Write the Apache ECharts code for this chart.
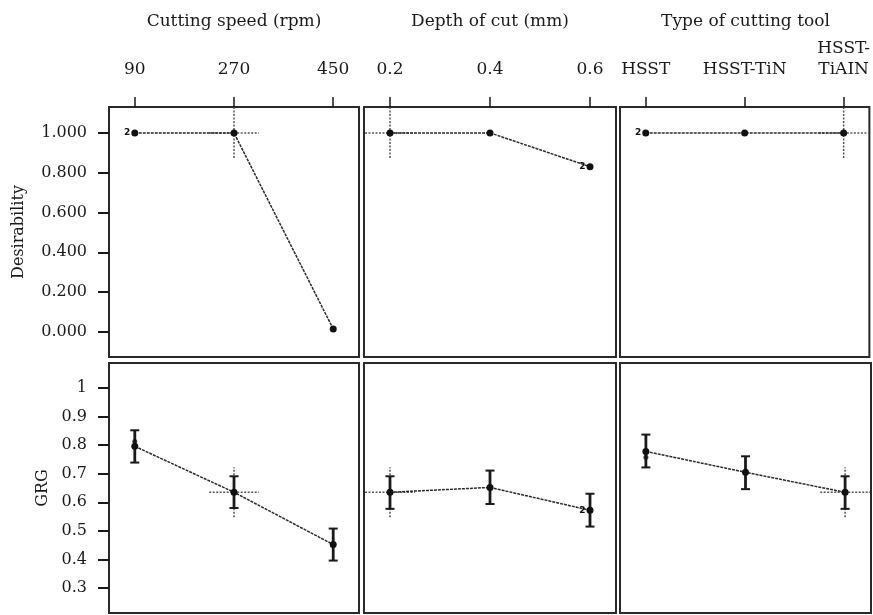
<!DOCTYPE html>
<html>
<head>
<meta charset="utf-8">
<script src="https://cdn.jsdelivr.net/npm/echarts@6/dist/echarts.min.js"></script>
<style>html,body{margin:0;padding:0;background:#fff}#c{width:873px;height:615px}</style>
</head>
<body>
<div id="c"></div>
<script>
// ---- factor titles and levels ----
const factorTitles = ['Cutting speed (rpm)', 'Depth of cut (mm)', 'Type of cutting tool'];
const speedLevels = ['90', '270', '450'];
const depthLevels = ['0.2', '0.4', '0.6'];
const toolLevels = ['HSST', 'HSST-TiN', 'HSST-\nTiAIN'];

// ---- response names and tick labels ----
const responseNames = ['Desirability', 'GRG'];
const desirTicks = [0, 0.2, 0.4, 0.6, 0.8, 1.0];
const grgTicks = [0.3, 0.4, 0.5, 0.6, 0.7, 0.8, 0.9, 1];

// ---- desirability (top row) ----
const desirSpeed = [1.0, 1.0, 0.015];
const desirDepth = [1.0, 1.0, 0.83];
const desirTool = [1.0, 1.0, 1.0];
const desirDupIndex = [0, 2, 0];          // level index marked "2" in each panel

// ---- GRG (bottom row): mean, lower and upper ----
const grgSpeed = [0.796, 0.635, 0.452];
const grgSpeedLow = [0.739, 0.580, 0.396];
const grgSpeedHigh = [0.852, 0.691, 0.508];
const grgDepth = [0.635, 0.652, 0.572];
const grgDepthLow = [0.577, 0.594, 0.515];
const grgDepthHigh = [0.691, 0.711, 0.630];
const grgTool = [0.778, 0.705, 0.635];
const grgToolLow = [0.722, 0.646, 0.577];
const grgToolHigh = [0.837, 0.761, 0.691];
const grgExtraSpeed = [0.813, null, null];
const grgExtraDepth = [null, null, null];
const grgExtraTool = [0.758, null, null];
const grgDupIndex = [null, 2, null];

// ---- optimum setting ----
const optimalIndex = [1, 0, 2];
const optimalDesir = 1.0;
const optimalGRG = 0.635;

const FONT = 'DejaVu Serif';
const INK = '#1a1a1a';
const levels = [speedLevels, depthLevels, toolLevels];
const desirRows = [desirSpeed, desirDepth, desirTool];
const grgRows = [grgSpeed, grgDepth, grgTool];
const grgLows = [grgSpeedLow, grgDepthLow, grgToolLow];
const grgHighs = [grgSpeedHigh, grgDepthHigh, grgToolHigh];
const grgExtras = [grgExtraSpeed, grgExtraDepth, grgExtraTool];

const colLeft = [109, 364, 620];
const colWidth = [250, 252, 251];
const rowTop = [107, 363];
const rowHeight = 250;
const yRange = [[-0.126, 1.13], [0.2125, 1.0875]];
const crossDy = [0.126, 0.0875];
const crossDx = 0.25;

const grids = [], xAxes = [], yAxes = [], series = [];
for (let r = 0; r < 2; r++) {
  for (let c = 0; c < 3; c++) {
    const i = r * 3 + c;
    grids.push({left: colLeft[c], top: rowTop[r], width: colWidth[c], height: rowHeight,
      show: true, borderColor: '#2a2a2a', borderWidth: 2, backgroundColor: '#fff'});
    xAxes.push({gridIndex: i, type: 'value', min: -0.26, max: 2.26, position: 'top',
      axisLine: {show: false, onZero: false}, splitLine: {show: false},
      axisTick: {show: r === 0, inside: false, length: 10, customValues: [0, 1, 2], lineStyle: {color: INK, width: 1.5}},
      axisLabel: {show: r === 0, customValues: [0, 1, 2], margin: 27, fontFamily: FONT, fontSize: 17, color: INK, lineHeight: 21,
        formatter: (v) => levels[c][Math.round(v)]}});
    const ticks = r === 0 ? desirTicks : grgTicks;
    yAxes.push({gridIndex: i, type: 'value', min: yRange[r][0], max: yRange[r][1], position: 'left',
      axisLine: {show: false, onZero: false}, splitLine: {show: false},
      name: c === 0 ? responseNames[r] : '', nameLocation: 'middle', nameGap: r === 0 ? 82 : 58,
      nameTextStyle: {fontFamily: FONT, fontSize: 16, color: INK},
      axisTick: {show: c === 0, inside: false, length: 11, customValues: ticks, lineStyle: {color: INK, width: 2}},
      axisLabel: {show: c === 0, customValues: ticks, margin: 22, fontFamily: FONT, fontSize: 16, color: INK,
        formatter: (v) => r === 0 ? v.toFixed(3) : String(Math.round(v * 10) / 10)}});

    // crosshair at optimum
    const ox = optimalIndex[c];
    const oy = r === 0 ? optimalDesir : optimalGRG;
    const crossStyle = {color: '#555', width: 1.5, type: [2, 1.5]};
    series.push({type: 'line', xAxisIndex: i, yAxisIndex: i, symbol: 'none', silent: true, z: 1,
      lineStyle: crossStyle, data: [[ox - crossDx, oy], [ox + crossDx, oy]]});
    series.push({type: 'line', xAxisIndex: i, yAxisIndex: i, symbol: 'none', silent: true, z: 1,
      lineStyle: crossStyle, data: [[ox, oy - crossDy[r]], [ox, oy + crossDy[r]]]});

    if (r === 1) {
      const eb = grgLows[c].map((lo, k) => [k, lo, grgHighs[c][k]]);
      series.push({type: 'custom', xAxisIndex: i, yAxisIndex: i, z: 3, silent: true, data: eb,
        renderItem: (params, api) => {
          const x = api.value(0);
          const pLo = api.coord([x, api.value(1)]);
          const pHi = api.coord([x, api.value(2)]);
          const cap = 4.5;
          const st = {stroke: '#1a1a1a', lineWidth: 2.8};
          return {type: 'group', children: [
            {type: 'line', shape: {x1: pLo[0], y1: pLo[1], x2: pHi[0], y2: pHi[1]}, style: st},
            {type: 'line', shape: {x1: pLo[0] - cap, y1: pLo[1], x2: pLo[0] + cap, y2: pLo[1]}, style: {stroke: '#1a1a1a', lineWidth: 2}},
            {type: 'line', shape: {x1: pHi[0] - cap, y1: pHi[1], x2: pHi[0] + cap, y2: pHi[1]}, style: {stroke: '#1a1a1a', lineWidth: 2}}
          ]};
        }});
      const extra = grgExtras[c].map((v, k) => v === null ? null : [k, v]).filter(d => d);
      if (extra.length) {
        series.push({type: 'scatter', xAxisIndex: i, yAxisIndex: i, z: 5, symbol: 'circle', symbolSize: 5,
          itemStyle: {color: '#111'}, data: extra});
      }
    }

    const vals = r === 0 ? desirRows[c] : grgRows[c];
    const dup = r === 0 ? desirDupIndex[c] : grgDupIndex[c];
    const lineData = vals.map((v, k) => {
      const item = {value: [k, v]};
      if (k === dup) {
        item.label = {show: true, formatter: '2', position: 'left', distance: 1,
          fontSize: 9, fontWeight: 'bold', fontFamily: 'DejaVu Sans', color: '#111'};
      }
      return item;
    });
    series.push({type: 'line', xAxisIndex: i, yAxisIndex: i, z: 4, symbol: 'circle', symbolSize: 7,
      itemStyle: {color: '#111'}, lineStyle: {color: '#2a2a2a', width: 1.5, type: [3, 1]}, data: lineData});
  }
}

const graphics = factorTitles.map((t, c) => ({
  type: 'text', x: colLeft[c] + colWidth[c] / 2, y: 22,
  style: {text: t, fill: INK, font: '17px "' + FONT + '"', textAlign: 'center', textVerticalAlign: 'middle'}
}));

const chart = echarts.init(document.getElementById('c'), null, {renderer: 'canvas'});
chart.setOption({
  animation: false,
  backgroundColor: '#fff',
  grid: grids, xAxis: xAxes, yAxis: yAxes, series: series, graphic: graphics
});
</script>
</body>
</html>
